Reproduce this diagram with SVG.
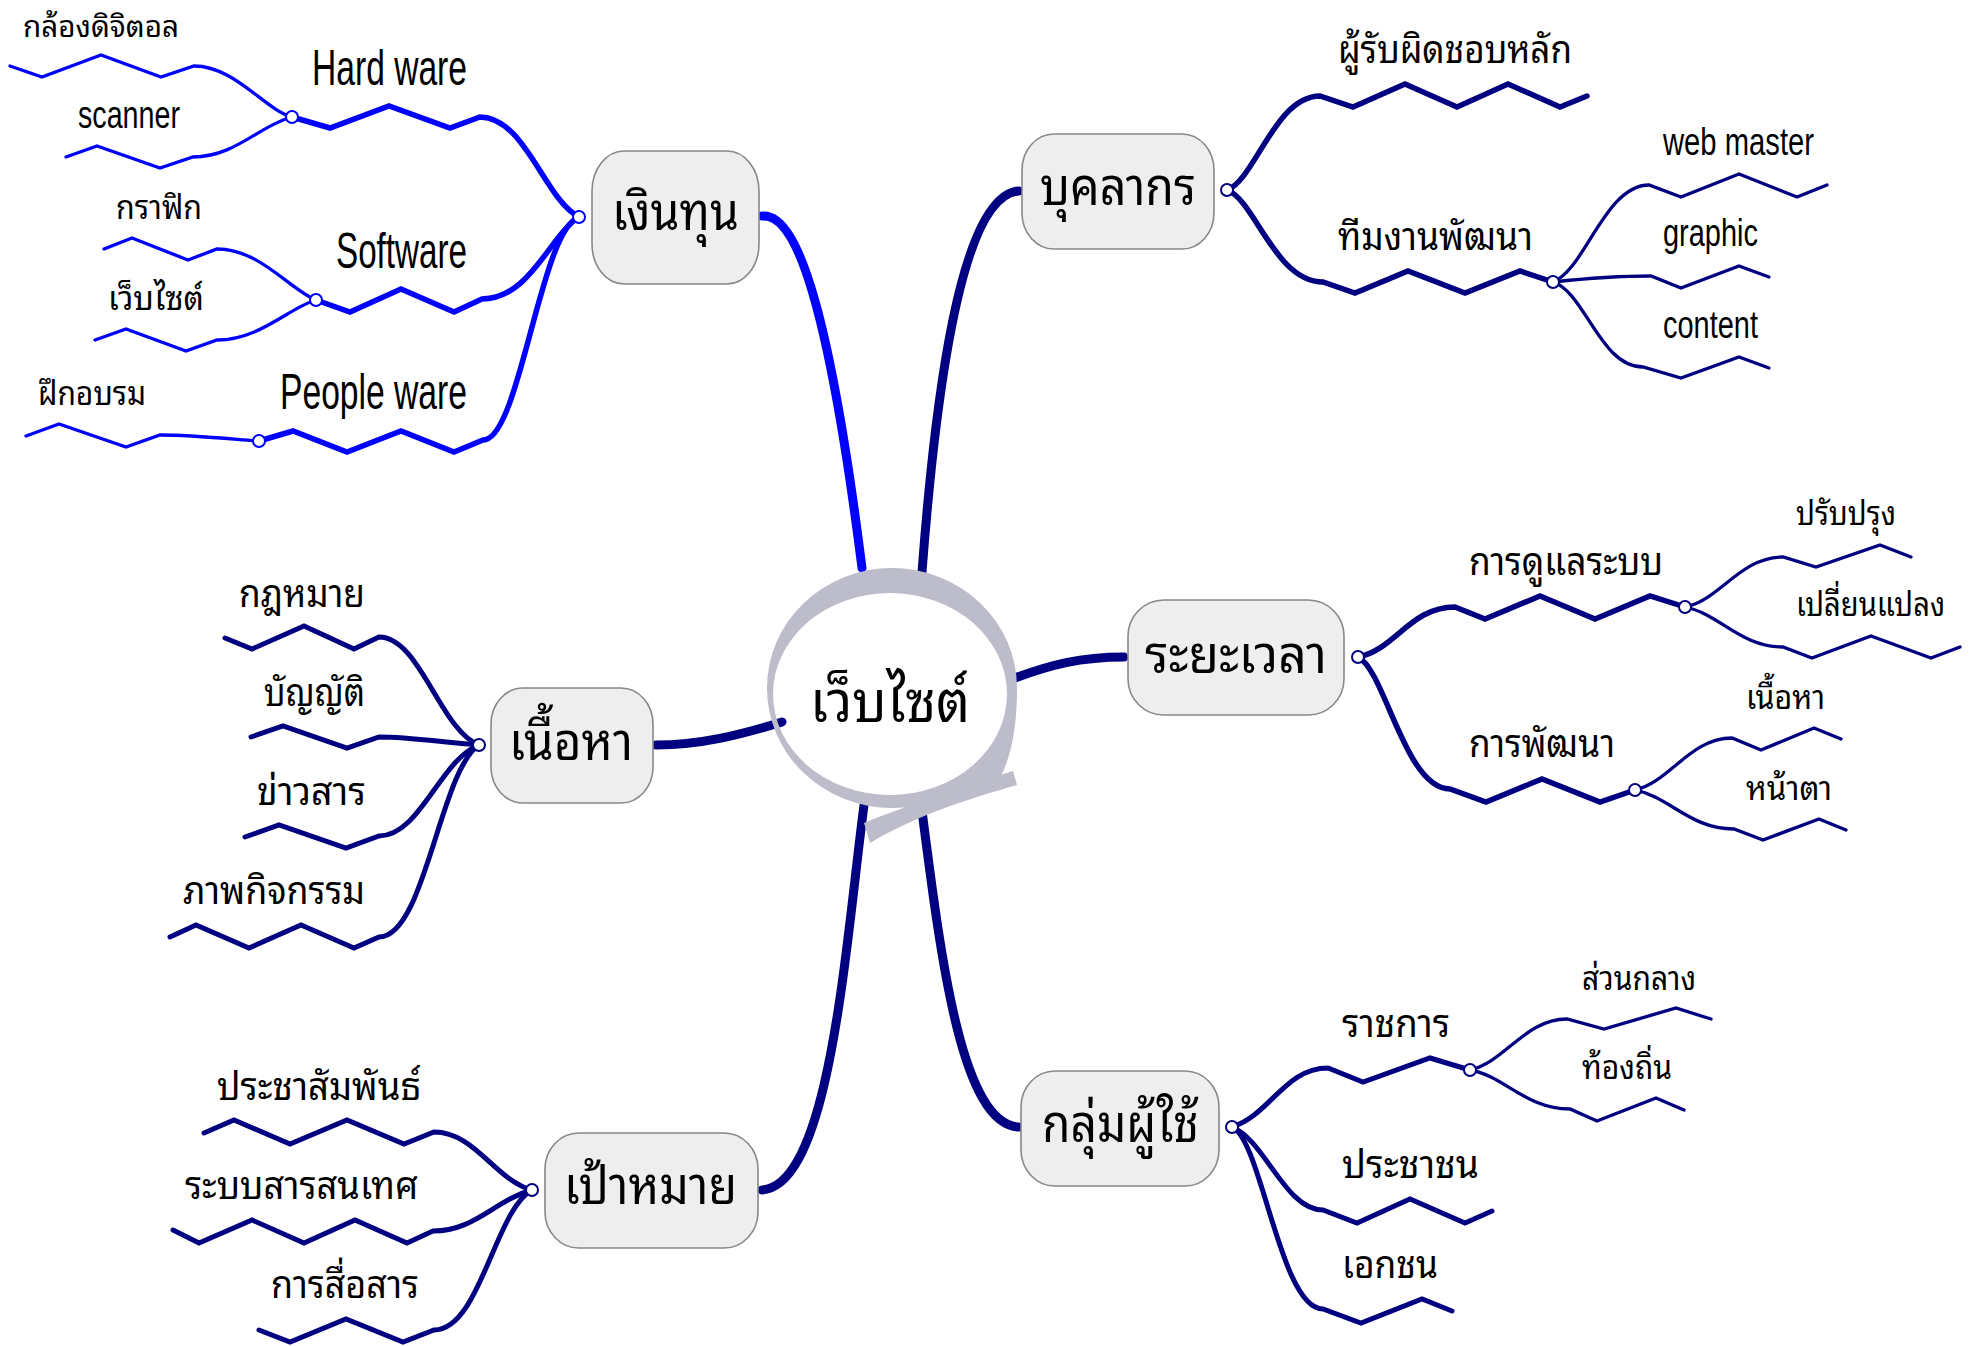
<svg xmlns="http://www.w3.org/2000/svg" width="1972" height="1346" viewBox="0 0 1972 1346">
<style>
.bg{fill:#ffffff}
.box{fill:#eeeeee;stroke:#888888;stroke-width:1.6}
.t{font-family:"Noto Sans Thai Looped","Noto Sans Thai","Noto Sans","DejaVu Sans",sans-serif;fill:#000}
.e{font-family:"Liberation Sans Narrow","Liberation Sans",Arial,sans-serif;fill:#000}
.main{font-size:52px}
.center{font-size:58px}
.l2{font-size:38px}
.l3{font-size:33px}
.l3s{font-size:29px}
.el2{font-size:50px}
.el3{font-size:38px}
.c{fill:none;stroke-linecap:round;stroke-linejoin:miter}
.blue{stroke:#0000ff}
.navy{stroke:#000080}
.w1{stroke-width:9}
.w2{stroke-width:5.5}
.w2b{stroke-width:5}
.w3{stroke-width:3.3}
.dot{fill:#ffffff;stroke-width:2}
.ring{fill:#bcbcca}
</style>
<rect class="bg" x="0" y="0" width="1972" height="1346"/>

<g id="connectors">
  <path class="c blue w1" d="M 762 216 C 800 212, 832 330, 862 568"/>
  <path class="c navy w1" d="M 922 572 C 935 400, 960 195, 1019 191"/>
  <path class="c navy w1" d="M 1015 678 C 1050 665, 1080 657, 1124 657"/>
  <path class="c navy w1" d="M 656 745 C 700 745, 740 735, 782 722"/>
  <path class="c navy w1" d="M 864 805 C 845 950, 830 1185, 762 1190"/>
  <path class="c navy w1" d="M 921 803 C 940 950, 960 1125, 1019 1127"/>

  <path class="c blue w2" d="M 579 217 C 545 200, 525 117, 480 117 L 450 128 L 389 106 L 330 128 L 292 117"/>
  <path class="c blue w2" d="M 579 217 C 550 235, 530 299, 482 299 L 454 312 L 401 289 L 350 312 L 316 300"/>
  <path class="c blue w2" d="M 579 217 C 540 230, 520 440, 483 440 L 454 452 L 401 431 L 347 452 L 293 431 L 259 441"/>
  <path class="c blue w3" d="M 292 117 C 265 110, 235 66, 194 66 L 161 77 L 101 55 L 42 77 L 10 66"/>
  <path class="c blue w3" d="M 292 117 C 260 125, 235 157, 193 157 L 160 168 L 97 146 L 66 157"/>
  <path class="c blue w3" d="M 316 300 C 290 290, 260 249, 217 249 L 188 260 L 132 238 L 104 249"/>
  <path class="c blue w3" d="M 316 300 C 290 307, 260 340, 217 340 L 186 351 L 126 329 L 95 340"/>
  <path class="c blue w3" d="M 259 441 C 220 438, 190 435, 160 435 L 126 447 L 59 424 L 26 436"/>

  <path class="c navy w2" d="M 1227 190 C 1255 180, 1275 96, 1320 96 L 1353 107 L 1405 84 L 1457 107 L 1508 84 L 1560 107 L 1587 96"/>
  <path class="c navy w2" d="M 1227 190 C 1255 200, 1275 282, 1323 282 L 1355 293 L 1408 271 L 1465 293 L 1520 271 L 1553 282"/>
  <path class="c navy w3" d="M 1553 282 C 1585 270, 1605 185, 1649 185 L 1681 197 L 1739 174 L 1797 197 L 1827 185"/>
  <path class="c navy w3" d="M 1553 282 C 1590 278, 1620 276, 1651 276 L 1681 288 L 1739 266 L 1769 277"/>
  <path class="c navy w3" d="M 1553 282 C 1585 292, 1600 367, 1643 367 L 1681 378 L 1739 357 L 1769 368"/>

  <path class="c navy w2" d="M 1358 657 C 1395 650, 1410 607, 1455 607 L 1485 619 L 1540 596 L 1595 619 L 1650 596 L 1685 607"/>
  <path class="c navy w2" d="M 1358 657 C 1385 670, 1405 789, 1450 789 L 1486 802 L 1542 779 L 1600 802 L 1635 790"/>
  <path class="c navy w3" d="M 1685 607 C 1720 600, 1740 557, 1783 557 L 1816 567 L 1880 545 L 1911 557"/>
  <path class="c navy w3" d="M 1685 607 C 1720 614, 1740 647, 1783 647 L 1812 658 L 1871 636 L 1931 658 L 1960 647"/>
  <path class="c navy w3" d="M 1635 790 C 1670 782, 1690 738, 1732 738 L 1761 750 L 1814 728 L 1841 739"/>
  <path class="c navy w3" d="M 1635 790 C 1670 797, 1690 829, 1734 829 L 1763 840 L 1819 819 L 1846 830"/>

  <path class="c navy w2b" d="M 479 745 C 440 730, 420 637, 379 637 L 354 649 L 304 626 L 252 649 L 225 638"/>
  <path class="c navy w2b" d="M 479 745 C 440 742, 410 737, 379 737 L 347 748 L 283 726 L 251 737"/>
  <path class="c navy w2b" d="M 479 745 C 440 760, 420 836, 379 836 L 346 848 L 279 825 L 245 837"/>
  <path class="c navy w2b" d="M 479 745 C 440 770, 425 937, 379 937 L 354 948 L 301 925 L 249 948 L 196 925 L 170 937"/>

  <path class="c navy w2b" d="M 532 1190 C 495 1180, 475 1132, 434 1132 L 404 1144 L 347 1120 L 290 1144 L 234 1120 L 204 1133"/>
  <path class="c navy w2b" d="M 532 1190 C 495 1200, 475 1231, 433 1231 L 407 1243 L 355 1220 L 304 1243 L 252 1220 L 199 1243 L 173 1230"/>
  <path class="c navy w2b" d="M 532 1190 C 495 1210, 480 1330, 434 1330 L 403 1342 L 346 1319 L 290 1342 L 259 1330"/>

  <path class="c navy w2b" d="M 1232 1127 C 1270 1115, 1285 1068, 1328 1068 L 1363 1082 L 1430 1058 L 1470 1070"/>
  <path class="c navy w2b" d="M 1232 1127 C 1265 1140, 1285 1210, 1323 1210 L 1357 1223 L 1410 1199 L 1465 1223 L 1492 1211"/>
  <path class="c navy w2b" d="M 1232 1127 C 1262 1140, 1280 1309, 1323 1309 L 1361 1323 L 1422 1299 L 1452 1311"/>
  <path class="c navy w3" d="M 1470 1070 C 1505 1062, 1525 1019, 1567 1019 L 1604 1029 L 1676 1008 L 1711 1019"/>
  <path class="c navy w3" d="M 1470 1070 C 1505 1076, 1525 1109, 1570 1109 L 1597 1121 L 1656 1098 L 1684 1110"/>

  <circle class="dot blue" cx="579" cy="217" r="6"/>
  <circle class="dot blue" cx="292" cy="117" r="6"/>
  <circle class="dot blue" cx="316" cy="300" r="6"/>
  <circle class="dot blue" cx="259" cy="441" r="6"/>
  <circle class="dot navy" cx="1227" cy="190" r="6"/>
  <circle class="dot navy" cx="1553" cy="282" r="6"/>
  <circle class="dot navy" cx="1358" cy="657" r="6"/>
  <circle class="dot navy" cx="1685" cy="607" r="6"/>
  <circle class="dot navy" cx="1635" cy="790" r="6"/>
  <circle class="dot navy" cx="479" cy="745" r="6"/>
  <circle class="dot navy" cx="532" cy="1190" r="6"/>
  <circle class="dot navy" cx="1232" cy="1127" r="6"/>
  <circle class="dot navy" cx="1470" cy="1070" r="6"/>
</g>

<g id="center">
  <path class="ring" fill-rule="evenodd" d="M 767 688 A 125 120 0 1 1 1017 688 A 125 120 0 1 1 767 688 Z M 773 694 A 117 101 0 1 0 1007 694 A 117 101 0 1 0 773 694 Z"/>
  <path class="ring" d="M 1013 771 L 1017 785 C 965 800, 915 816, 870 843 L 864 823 C 905 806, 960 789, 1013 771 Z"/>
  <path class="ring" d="M 1007 694 C 1008 735, 985 770, 950 792 L 1000 778 C 1012 755, 1017 725, 1017 688 Z"/>
  <text class="t center" x="810" y="722" textLength="160" lengthAdjust="spacingAndGlyphs">เว็บไซต์</text>
</g>

<g id="n-funds">
  <rect class="box" x="592" y="151" width="167" height="133" rx="32" ry="40"/>
  <text class="t main" x="612" y="230" textLength="127" lengthAdjust="spacingAndGlyphs">เงินทุน</text>
</g>
<g id="n-hardware"><text class="e el2" x="312" y="85" textLength="155" lengthAdjust="spacingAndGlyphs">Hard ware</text></g>
<g id="n-software"><text class="e el2" x="336" y="268" textLength="131" lengthAdjust="spacingAndGlyphs">Software</text></g>
<g id="n-peopleware"><text class="e el2" x="280" y="409" textLength="187" lengthAdjust="spacingAndGlyphs">People ware</text></g>
<g id="n-camera"><text class="t l3s" x="23" y="37" textLength="156" lengthAdjust="spacingAndGlyphs">กล้องดิจิตอล</text></g>
<g id="n-scanner"><text class="e el3" x="78" y="128" textLength="102" lengthAdjust="spacingAndGlyphs">scanner</text></g>
<g id="n-graphic-th"><text class="t l3" x="116" y="219" textLength="86" lengthAdjust="spacingAndGlyphs">กราฟิก</text></g>
<g id="n-website-sm"><text class="t l3" x="108" y="310" textLength="96" lengthAdjust="spacingAndGlyphs">เว็บไซต์</text></g>
<g id="n-training"><text class="t l3" x="38" y="405" textLength="108" lengthAdjust="spacingAndGlyphs">ฝึกอบรม</text></g>

<g id="n-staff">
  <rect class="box" x="1022" y="134" width="192" height="115" rx="32" ry="36"/>
  <text class="t main" x="1040" y="205" textLength="156" lengthAdjust="spacingAndGlyphs">บุคลากร</text>
</g>
<g id="n-owner"><text class="t l2" x="1338" y="63" textLength="234" lengthAdjust="spacingAndGlyphs">ผู้รับผิดชอบหลัก</text></g>
<g id="n-devteam"><text class="t l2" x="1338" y="250" textLength="195" lengthAdjust="spacingAndGlyphs">ทีมงานพัฒนา</text></g>
<g id="n-webmaster"><text class="e el3" x="1663" y="155" textLength="151" lengthAdjust="spacingAndGlyphs">web master</text></g>
<g id="n-graphic"><text class="e el3" x="1663" y="246" textLength="95" lengthAdjust="spacingAndGlyphs">graphic</text></g>
<g id="n-content"><text class="e el3" x="1663" y="338" textLength="95" lengthAdjust="spacingAndGlyphs">content</text></g>

<g id="n-period">
  <rect class="box" x="1128" y="600" width="216" height="115" rx="36" ry="36"/>
  <text class="t main" x="1145" y="673" textLength="182" lengthAdjust="spacingAndGlyphs">ระยะเวลา</text>
</g>
<g id="n-maint"><text class="t l2" x="1469" y="575" textLength="194" lengthAdjust="spacingAndGlyphs">การดูแลระบบ</text></g>
<g id="n-improve"><text class="t l3" x="1796" y="525" textLength="100" lengthAdjust="spacingAndGlyphs">ปรับปรุง</text></g>
<g id="n-change"><text class="t l3" x="1796" y="616" textLength="149" lengthAdjust="spacingAndGlyphs">เปลี่ยนแปลง</text></g>
<g id="n-develop"><text class="t l2" x="1469" y="757" textLength="146" lengthAdjust="spacingAndGlyphs">การพัฒนา</text></g>
<g id="n-content-th"><text class="t l3" x="1746" y="709" textLength="79" lengthAdjust="spacingAndGlyphs">เนื้อหา</text></g>
<g id="n-look"><text class="t l3" x="1746" y="800" textLength="86" lengthAdjust="spacingAndGlyphs">หน้าตา</text></g>

<g id="n-contents">
  <rect class="box" x="491" y="688" width="162" height="115" rx="32" ry="36"/>
  <text class="t main" x="509" y="760" textLength="124" lengthAdjust="spacingAndGlyphs">เนื้อหา</text>
</g>
<g id="n-law"><text class="t l2" x="239" y="607" textLength="126" lengthAdjust="spacingAndGlyphs">กฎหมาย</text></g>
<g id="n-act"><text class="t l2" x="264" y="706" textLength="101" lengthAdjust="spacingAndGlyphs">บัญญัติ</text></g>
<g id="n-news"><text class="t l2" x="257" y="805" textLength="109" lengthAdjust="spacingAndGlyphs">ข่าวสาร</text></g>
<g id="n-activity"><text class="t l2" x="183" y="904" textLength="182" lengthAdjust="spacingAndGlyphs">ภาพกิจกรรม</text></g>

<g id="n-goal">
  <rect class="box" x="545" y="1133" width="213" height="115" rx="34" ry="36"/>
  <text class="t main" x="564" y="1204" textLength="173" lengthAdjust="spacingAndGlyphs">เป้าหมาย</text>
</g>
<g id="n-pr"><text class="t l2" x="217" y="1100" textLength="204" lengthAdjust="spacingAndGlyphs">ประชาสัมพันธ์</text></g>
<g id="n-is"><text class="t l2" x="185" y="1199" textLength="233" lengthAdjust="spacingAndGlyphs">ระบบสารสนเทศ</text></g>
<g id="n-comm"><text class="t l2" x="271" y="1298" textLength="148" lengthAdjust="spacingAndGlyphs">การสื่อสาร</text></g>

<g id="n-users">
  <rect class="box" x="1021" y="1071" width="198" height="115" rx="34" ry="36"/>
  <text class="t main" x="1042" y="1142" textLength="157" lengthAdjust="spacingAndGlyphs">กลุ่มผู้ใช้</text>
</g>
<g id="n-gov"><text class="t l2" x="1342" y="1037" textLength="108" lengthAdjust="spacingAndGlyphs">ราชการ</text></g>
<g id="n-central"><text class="t l3" x="1582" y="990" textLength="114" lengthAdjust="spacingAndGlyphs">ส่วนกลาง</text></g>
<g id="n-local"><text class="t l3" x="1582" y="1079" textLength="90" lengthAdjust="spacingAndGlyphs">ท้องถิ่น</text></g>
<g id="n-people"><text class="t l2" x="1342" y="1178" textLength="137" lengthAdjust="spacingAndGlyphs">ประชาชน</text></g>
<g id="n-private"><text class="t l2" x="1342" y="1278" textLength="96" lengthAdjust="spacingAndGlyphs">เอกชน</text></g>
</svg>
